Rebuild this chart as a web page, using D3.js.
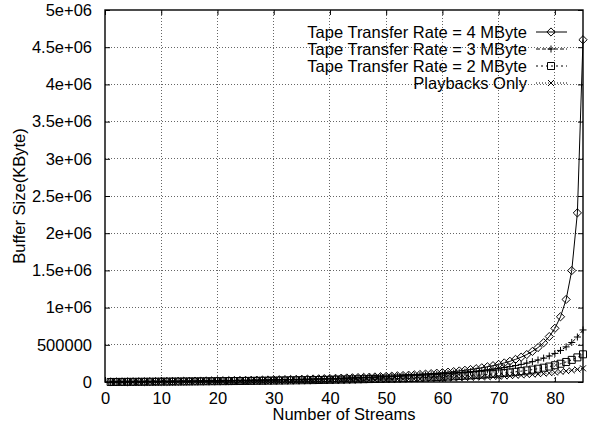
<!DOCTYPE html>
<html><head><meta charset="utf-8">
<script src="https://cdn.jsdelivr.net/npm/d3@7"></script>
<style>
body{margin:0;background:#fff;}
text{font-family:"Liberation Sans",Arial,Helvetica,sans-serif;fill:#000;}
</style></head>
<body><svg id="c" width="595" height="427"></svg>
<script>
const streams = [1,2,3,4,5,6,7,8,9,10,11,12,13,14,15,16,17,18,19,20,21,22,23,24,25,26,27,28,29,30,31,32,33,34,35,36,37,38,39,40,41,42,43,44,45,46,47,48,49,50,51,52,53,54,55,56,57,58,59,60,61,62,63,64,65,66,67,68,69,70,71,72,73,74,75,76,77,78,79,80,81,82,83,84,85];
const tape4 = [637,1288,1956,2640,3341,4059,4795,5551,6325,7121,7937,8776,9637,10523,11433,12370,13333,14325,15347,16399,17484,18603,19757,20949,22180,23451,24766,26126,27534,28992,30503,32070,33696,35385,37140,38965,40865,42843,44906,47059,49308,51658,54118,56695,59398,62236,65219,68360,71670,75164,78858,82769,86917,91324,96016,101020,106370,112102,118258,124888,132048,139805,148236,157434,167508,178589,190837,204446,219655,236766,256159,278321,303893,333728,368986,411297,463010,527651,610760,721573,876712,1109419,1497265,2272956,4600030];
const tape3 = [633,1280,1942,2618,3310,4019,4744,5486,6246,7024,7822,8640,9478,10338,11221,12126,13056,14011,14992,16000,17037,18103,19200,20329,21493,22691,23926,25200,26514,27871,29272,30720,32217,33766,35368,37029,38749,40533,42385,44308,46306,48384,50547,52800,55149,57600,60160,62836,65637,68571,71649,74880,78277,81853,85622,89600,93806,98259,102982,108000,113342,119040,125131,131657,138667,146215,154368,163200,172800,183273,194743,207360,221305,236800,254118,273600,295680,320914,350031,384000,424145,472320,531200,604800,699429];
const tape2 = [424,857,1299,1751,2213,2686,3170,3665,4172,4690,5222,5766,6323,6895,7481,8082,8699,9332,9981,10649,11334,12039,12763,13509,14275,15065,15878,16715,17578,18469,19387,20335,21315,22327,23373,24455,25575,26736,27938,29185,30479,31823,33220,34672,36184,37758,39400,41113,42902,44773,46730,48781,50932,53190,55564,58063,60697,63478,66417,69529,72830,76338,80071,84053,88310,92871,97770,103046,108744,114917,121626,128945,136962,145780,155526,166356,178459,192075,207507,225143,245492,269233,297291,330960,372111];
const playback = [309,625,947,1276,1612,1955,2305,2664,3030,3404,3788,4179,4580,4991,5411,5841,6282,6733,7196,7671,8158,8657,9170,9696,10236,10792,11363,11949,12553,13174,13813,14472,15150,15849,16570,17314,18082,18875,19695,20542,21419,22326,23266,24240,25250,26298,27387,28518,29694,30918,32194,33523,34911,36360,37875,39460,41121,42863,44693,46615,48639,50773,53025,55406,57926,60600,63441,66465,69690,73138,76832,80800,85073,89688,94688,100122,106050,112543,119685,127579,136350,146153,157181,169680,183964];
const seriesNames = ["Tape Transfer Rate = 4 MByte","Tape Transfer Rate = 3 MByte","Tape Transfer Rate = 2 MByte","Playbacks Only"];
const xTicks = [0,10,20,30,40,50,60,70,80];
const yTicks = [0,500000,1000000,1500000,2000000,2500000,3000000,3500000,4000000,4500000,5000000];
const yTickLabels = ["0","500000","1e+06","1.5e+06","2e+06","2.5e+06","3e+06","3.5e+06","4e+06","4.5e+06","5e+06"];

const svg = d3.select("#c");
const L=105,R=583,T=10,B=382;
const x = d3.scaleLinear().domain([0,85]).range([L,R]);
const y = d3.scaleLinear().domain([0,5000000]).range([B,T]);
const fs = 16.5, lfs = 16.5;

// grid
const g = svg.append("g");
g.selectAll(".gx").data(xTicks.filter(d=>d>0)).enter().append("line")
 .attr("x1",d=>x(d)).attr("x2",d=>x(d)).attr("y1",B).attr("y2",T)
 .attr("stroke","#666").attr("stroke-width",1).attr("stroke-dasharray","1,2").attr("shape-rendering","crispEdges");
g.selectAll(".gy").data(yTicks.filter(d=>d>0 && d<5000000)).enter().append("line")
 .attr("x1",L).attr("x2",R).attr("y1",d=>y(d)).attr("y2",d=>y(d))
 .attr("stroke","#666").attr("stroke-width",1).attr("stroke-dasharray","1,2").attr("shape-rendering","crispEdges");

// axes
const xa = svg.append("g").attr("transform",`translate(0,${B})`)
 .call(d3.axisBottom(x).tickValues(xTicks).tickSizeInner(-5).tickSizeOuter(0).tickPadding(10));
const xa2 = svg.append("g").attr("transform",`translate(0,${T})`)
 .call(d3.axisTop(x).tickValues(xTicks).tickSizeInner(-5).tickSizeOuter(0).tickFormat(""));
const ya = svg.append("g").attr("transform",`translate(${L},0)`)
 .call(d3.axisLeft(y).tickValues(yTicks).tickFormat((d,i)=>yTickLabels[i]).tickSizeInner(-5).tickSizeOuter(0).tickPadding(13));
const ya2 = svg.append("g").attr("transform",`translate(${R},0)`)
 .call(d3.axisRight(y).tickValues(yTicks).tickSizeInner(-5).tickSizeOuter(0).tickFormat(""));
[xa,xa2,ya,ya2].forEach(a=>{
 a.select(".domain").remove();
 a.selectAll("line").attr("stroke","#000");
 a.selectAll("text").attr("font-size",fs).attr("font-family","Liberation Sans, Arial, sans-serif").attr("fill","#000");
});
svg.append("rect").attr("x",L).attr("y",T).attr("width",R-L).attr("height",B-T)
 .attr("fill","none").attr("stroke","#000").attr("stroke-width",1.4);

// labels
svg.append("text").attr("x",(L+R)/2).attr("y",420).attr("text-anchor","middle").attr("font-size",fs).text("Number of Streams");
svg.append("text").attr("transform","translate(25,196) rotate(-90)").attr("text-anchor","middle").attr("font-size",fs).text("Buffer Size(KByte)");

// series
const series = [
 {name:seriesNames[0], vals:tape4, dash:null, mk:"diamond"},
 {name:seriesNames[1], vals:tape3, dash:"4,2", mk:"plus"},
 {name:seriesNames[2], vals:tape2, dash:"2,3", mk:"square"},
 {name:seriesNames[3], vals:playback, dash:"1,2", mk:"cross"}
];
function marker(sel, type){
 const s=3.5;
 if(type==="diamond") sel.append("path").attr("d",`M0,${-s-0.6}L${s+0.6},0L0,${s+0.6}L${-s-0.6},0Z`).attr("fill","none").attr("stroke","#000").attr("stroke-width",1);
 else if(type==="plus") sel.append("path").attr("d",`M${-s},0H${s}M0,${-s}V${s}`).attr("stroke","#000").attr("stroke-width",1);
 else if(type==="square") sel.append("path").attr("d",`M${-s},${-s}H${s}V${s}H${-s}Z`).attr("fill","none").attr("stroke","#000").attr("stroke-width",1);
 else sel.append("path").attr("d",`M${-s*0.85},${-s*0.85}L${s*0.85},${s*0.85}M${-s*0.85},${s*0.85}L${s*0.85},${-s*0.85}`).attr("stroke","#000").attr("stroke-width",1);
}
const line = d3.line().x((d,i)=>x(streams[i])).y(d=>y(d));
const plot = svg.append("g");
series.slice().reverse().forEach(s=>{
 plot.append("path").datum(s.vals).attr("d",line).attr("fill","none").attr("stroke","#000").attr("stroke-width",1)
  .attr("stroke-dasharray",s.dash);
 s.vals.forEach((v,i)=>{
  const m=plot.append("g").attr("transform",`translate(${x(streams[i])},${y(v)})`);
  marker(m,s.mk);
 });
});

// legend
const lg = svg.append("g");
series.forEach((s,i)=>{
 const yy = 32 + i*17;
 lg.append("text").attr("x",527).attr("y",yy+6).attr("text-anchor","end").attr("font-size",lfs).text(s.name);
 lg.append("line").attr("x1",536).attr("x2",567).attr("y1",yy).attr("y2",yy).attr("stroke","#000").attr("stroke-width",1).attr("stroke-dasharray",s.dash);
 const m=lg.append("g").attr("transform",`translate(551,${yy})`);
 marker(m,s.mk);
});
</script></body></html>
